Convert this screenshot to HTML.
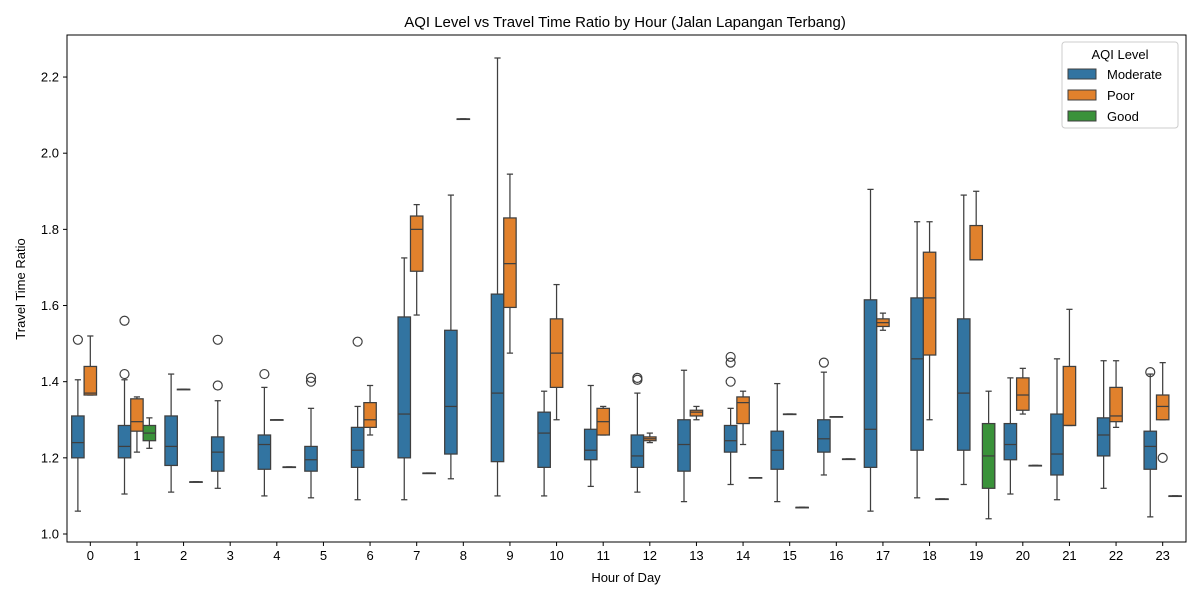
<!DOCTYPE html>
<html><head><meta charset="utf-8"><style>
body{margin:0;background:#fff;font-family:"Liberation Sans","DejaVu Sans",sans-serif}
svg text{font-family:"Liberation Sans","DejaVu Sans",sans-serif;fill:#000}
</style></head><body>
<svg id="chart" width="1200" height="600" viewBox="0 0 1200 600">
<rect width="1200" height="600" fill="#fff"/>
<text x="625" y="27" font-size="15" text-anchor="middle">AQI Level vs Travel Time Ratio by Hour (Jalan Lapangan Terbang)</text>
<g id="marks"></g>
<rect x="67" y="35" width="1119" height="507" fill="none" stroke="#000" stroke-width="1"/>
<g id="axes"></g>
<text x="626" y="582" font-size="13" text-anchor="middle">Hour of Day</text>
<text transform="translate(25,289) rotate(-90)" font-size="13" text-anchor="middle">Travel Time Ratio</text>
<g>
<rect x="1062" y="42" width="116" height="86" rx="3" fill="#fff" stroke="#ccc"/>
<text x="1120" y="59" font-size="13" text-anchor="middle">AQI Level</text>
<rect x="1068" y="69" width="28" height="10" fill="#3274a1" stroke="#3f3f3f"/><text x="1107" y="79" font-size="13">Moderate</text>
<rect x="1068" y="90" width="28" height="10" fill="#e1812c" stroke="#3f3f3f"/><text x="1107" y="100" font-size="13">Poor</text>
<rect x="1068" y="111" width="28" height="10" fill="#3a923a" stroke="#3f3f3f"/><text x="1107" y="121" font-size="13">Good</text>
</g>
</svg>
<script>
const hours=[0,1,2,3,4,5,6,7,8,9,10,11,12,13,14,15,16,17,18,19,20,21,22,23];
const yTicks=[1.0,1.2,1.4,1.6,1.8,2.0,2.2];
const hueNames=["Moderate","Poor","Good"];
const hueColors=["#3274a1","#e1812c","#3a923a"];
// [whiskerLow,q1,median,q3,whiskerHigh] per hour, null = absent
const moderateStats=[
[1.06,1.20,1.24,1.31,1.405],[1.105,1.20,1.23,1.285,1.405],[1.11,1.18,1.23,1.31,1.42],[1.12,1.165,1.215,1.255,1.35],
[1.10,1.17,1.235,1.26,1.385],[1.095,1.165,1.195,1.23,1.33],[1.09,1.175,1.22,1.28,1.335],[1.09,1.20,1.315,1.57,1.725],
[1.145,1.21,1.335,1.535,1.89],[1.10,1.19,1.37,1.63,2.25],[1.10,1.175,1.265,1.32,1.375],[1.125,1.195,1.22,1.275,1.39],
[1.11,1.175,1.205,1.26,1.37],[1.085,1.165,1.235,1.30,1.43],[1.13,1.215,1.245,1.285,1.33],[1.085,1.17,1.22,1.27,1.395],
[1.155,1.215,1.25,1.30,1.425],[1.06,1.175,1.275,1.615,1.905],[1.095,1.22,1.46,1.62,1.82],[1.13,1.22,1.37,1.565,1.89],
[1.105,1.195,1.235,1.29,1.41],[1.09,1.155,1.21,1.315,1.46],[1.12,1.205,1.26,1.305,1.455],[1.045,1.17,1.23,1.27,1.42]];
const poorStats=[
[1.365,1.365,1.37,1.44,1.52],[1.215,1.27,1.295,1.355,1.36],[1.38,1.38,1.38,1.38,1.38],null,
[1.30,1.30,1.30,1.30,1.30],null,[1.26,1.28,1.30,1.345,1.39],[1.575,1.69,1.80,1.835,1.865],
[2.09,2.09,2.09,2.09,2.09],[1.475,1.595,1.71,1.83,1.945],[1.30,1.385,1.475,1.565,1.655],[1.26,1.26,1.295,1.33,1.335],
[1.24,1.245,1.25,1.255,1.265],[1.30,1.31,1.32,1.325,1.335],[1.235,1.29,1.345,1.36,1.375],[1.315,1.315,1.315,1.315,1.315],
[1.308,1.308,1.308,1.308,1.308],[1.535,1.545,1.555,1.565,1.58],[1.30,1.47,1.62,1.74,1.82],[1.72,1.72,1.72,1.81,1.90],
[1.315,1.325,1.365,1.41,1.435],[1.285,1.285,1.285,1.44,1.59],[1.28,1.295,1.31,1.385,1.455],[1.30,1.30,1.335,1.365,1.45]];
const goodStats=[
null,[1.225,1.245,1.265,1.285,1.305],[1.137,1.137,1.137,1.137,1.137],null,
[1.176,1.176,1.176,1.176,1.176],null,null,[1.16,1.16,1.16,1.16,1.16],
null,null,null,null,null,null,[1.148,1.148,1.148,1.148,1.148],[1.07,1.07,1.07,1.07,1.07],
[1.197,1.197,1.197,1.197,1.197],null,[1.092,1.092,1.092,1.092,1.092],[1.04,1.12,1.205,1.29,1.375],
[1.18,1.18,1.18,1.18,1.18],null,null,[1.10,1.10,1.10,1.10,1.10]];
const moderateOutliers=[[1.51],[1.42,1.56],[],[1.39,1.51],[1.42],[1.40,1.41],[1.505],[],[],[],[],[],[1.405,1.41],[],[1.40,1.45,1.465],[],[1.45],[],[],[],[],[],[],[1.425]];
const poorOutliers=[[],[],[],[],[],[],[],[],[],[],[],[],[],[],[],[],[],[],[],[],[],[],[],[1.20]];
const goodOutliers=hours.map(()=>[]);

const NS="http://www.w3.org/2000/svg";
const X0=67,BAND=1119/24,Y0=534,PX=380.8;
const xc=h=>X0+BAND*(h+0.5);
const y=v=>Y0-(v-1)*PX;
function mk(tag,attrs,parent){const e=document.createElementNS(NS,tag);for(const k in attrs)e.setAttribute(k,attrs[k]);parent.appendChild(e);return e;}
const marks=document.getElementById('marks'),axes=document.getElementById('axes');
const allStats=[moderateStats,poorStats,goodStats],allOut=[moderateOutliers,poorOutliers,goodOutliers];
const bw=BAND*0.8/3;
hours.forEach((h,i)=>{
 allStats.forEach((st,k)=>{
  const s=st[i]; const cx=xc(h)+(k-1)*bw;
  const g=mk('g',{},marks);
  
  
  if(!s)return;
  const st2={stroke:'#3f3f3f','stroke-width':1.25,fill:'none'};
  mk('line',Object.assign({x1:cx,x2:cx,y1:y(s[0]),y2:y(s[1])},st2),g);
  mk('line',Object.assign({x1:cx,x2:cx,y1:y(s[3]),y2:y(s[4])},st2),g);
  mk('line',Object.assign({x1:cx-bw/4,x2:cx+bw/4,y1:y(s[0]),y2:y(s[0])},st2),g);
  mk('line',Object.assign({x1:cx-bw/4,x2:cx+bw/4,y1:y(s[4]),y2:y(s[4])},st2),g);
  mk('rect',{x:cx-bw/2,y:y(s[3]),width:bw,height:Math.max(0.5,y(s[1])-y(s[3])),fill:hueColors[k],stroke:'#3f3f3f','stroke-width':1.25},g);
  mk('line',Object.assign({x1:cx-bw/2,x2:cx+bw/2,y1:y(s[2]),y2:y(s[2])},st2),g);
  allOut[k][i].forEach(o=>{
   const c=mk('circle',{cx:cx,cy:y(o),r:4.5,fill:'none',stroke:'#3f3f3f','stroke-width':1.2},g);
   
   
  });
 });
 mk('line',{x1:xc(h),x2:xc(h),y1:542,y2:546,stroke:'#000'},axes);
 const t=mk('text',{x:xc(h),y:560,'font-size':13,'text-anchor':'middle'},axes);
 t.textContent=h;
 
 
});
yTicks.forEach(v=>{
 mk('line',{x1:63,x2:67,y1:y(v),y2:y(v),stroke:'#000'},axes);
 const t=mk('text',{x:59,y:y(v)+4.5,'font-size':13,'text-anchor':'end'},axes);
 t.textContent=v.toFixed(1);
 
 
});
</script>
</body></html>
